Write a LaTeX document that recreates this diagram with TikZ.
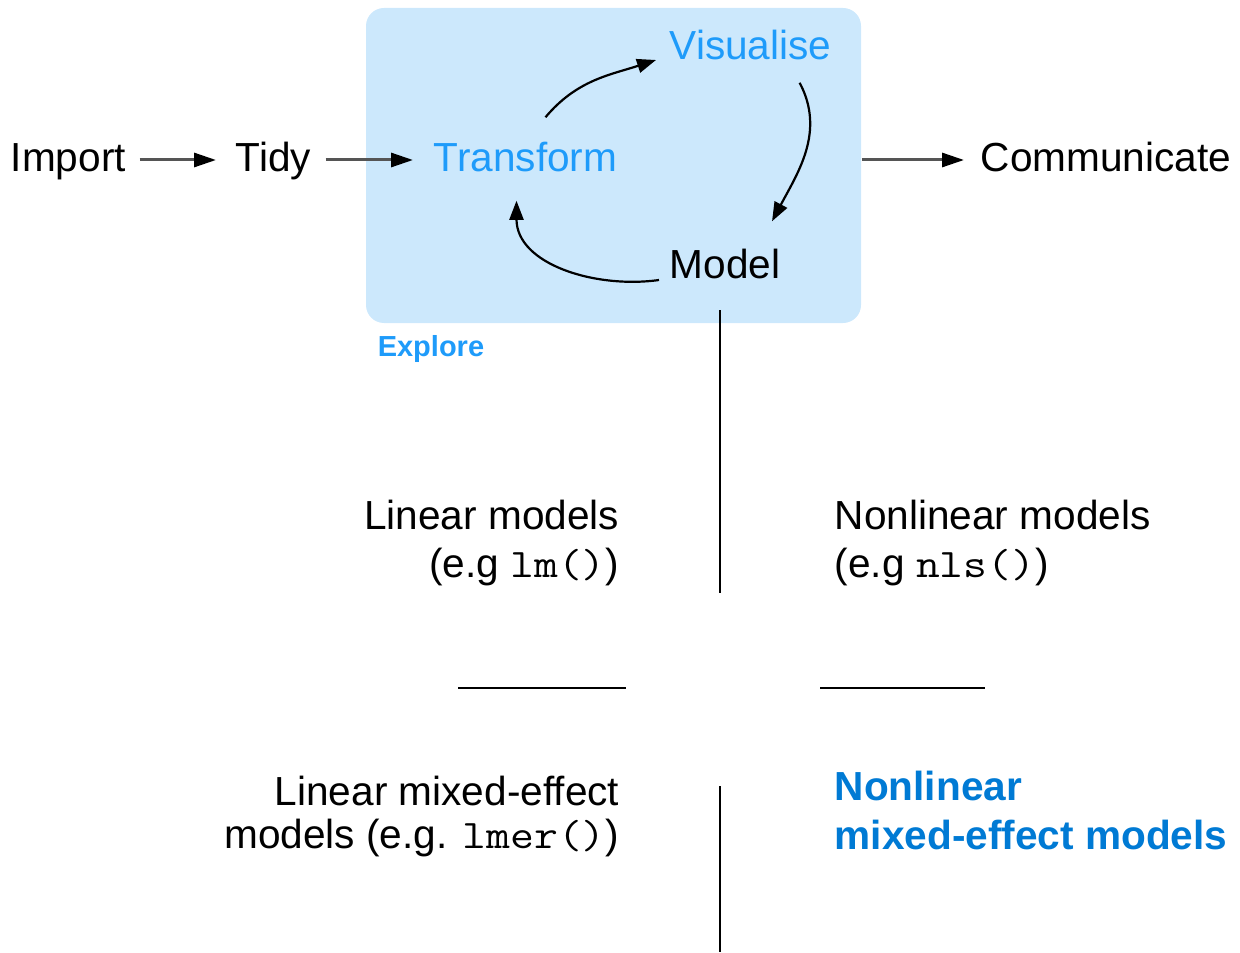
\documentclass[tikz,border=0pt]{standalone}
\usepackage{fontspec}
\setmainfont{Liberation Sans}
\setmonofont{Latin Modern Mono}[FakeStretch=1.14]
\usetikzlibrary{arrows.meta}

\definecolor{exploreblue}{RGB}{204,232,252}
\definecolor{stepblue}{RGB}{30,155,250}
\definecolor{nlmeblue}{RGB}{0,122,212}

\tikzset{every picture/.style={line width=0.75pt}}
\tikzset{
  lbl/.style={inner sep=0pt, text height=15pt, text depth=3pt, font=\fontsize{20.3}{24}\selectfont},
  flow/.style={draw={rgb,255:red,85;green,85;blue,85}, line width=1.5pt, -{Triangle[length=11pt,width=7pt,color=black]}},
  cycle arrow/.style={line width=1.1pt, -{Triangle[length=9.5pt,width=7pt]}},
  rule/.style={line width=1pt}
}

\begin{document}
\begin{tikzpicture}[x=0.5pt,y=-0.5pt]
\useasboundingbox (0,0) rectangle (1240,952);

%Shape: Rounded Rect
\node [fill=exploreblue, rounded corners=9pt, inner sep=0pt, minimum width=247.5pt, minimum height=157.5pt] (explorebox) at (613.5,165.5) {};

% Text Node
\node [lbl, anchor=base west] (import) at (10,172) {Import};
% Text Node
\node [lbl, anchor=base west] (tidy) at (235,172) {Tidy};
% Text Node
\node [lbl, anchor=base west, text=stepblue] (transform) at (433,172) {Transform};
% Text Node
\node [lbl, anchor=base west, text=stepblue] (visualise) at (669,60) {Visualise};
% Text Node
\node [lbl, anchor=base west] (model) at (669,278) {Model};
% Text Node
\node [lbl, anchor=base west] (communicate) at (980,172) {Communicate};
% Text Node
\node [inner sep=0pt, anchor=base west, text=stepblue, font=\fontsize{14.5}{17}\selectfont\bfseries] (explore) at (377,356) {Explore};

%Straight Lines
\draw [flow, shorten <=6.5pt, shorten >=9.5pt] (import.east) -- (tidy.west);
\draw [flow, shorten <=7pt, shorten >=10pt] (tidy.east) -- (transform.west);
\draw [flow, shorten >=8pt] (explorebox.east |- communicate.west) -- (communicate.west);

%Curves
\draw [cycle arrow] ([xshift=10pt,yshift=12pt]transform.north) to[out=50,in=198] ([xshift=-6.5pt,yshift=-6pt]visualise.west);
\draw [cycle arrow] ([xshift=24.5pt,yshift=-8pt]visualise.south) to[out=-62,in=62] ([xshift=23.5pt,yshift=13pt]model.north);
\draw [cycle arrow] ([xshift=-5pt,yshift=-7pt]model.west) to[out=188,in=-90] ([xshift=-4.5pt,yshift=-11pt]transform.south);

%Dividers
\coordinate (topsplit) at (720,310);
\coordinate (midsplit) at (720,593);
\coordinate (lowsplit) at (720,786);
\coordinate (basesplit) at (720,952);
\coordinate (leftbarw) at (458,688);
\coordinate (leftbare) at (626,688);
\coordinate (rightbarw) at (820,688);
\coordinate (rightbare) at (985,688);
\draw [rule] (topsplit) -- (midsplit);
\draw [rule] (lowsplit) -- (basesplit);
\draw [rule] (leftbarw) -- (leftbare);
\draw [rule] (rightbarw) -- (rightbare);

% Text Node
\node [lbl, anchor=base east] (lm1) at (620,529) {Linear models};
% Text Node
\node [lbl, anchor=base east] (lm2) at (620,577) {(e.g \texttt{lm()})};
% Text Node
\node [lbl, anchor=base west] (nls1) at (834,529) {Nonlinear models};
% Text Node
\node [lbl, anchor=base west] (nls2) at (834,577) {(e.g \texttt{nls()})};
% Text Node
\node [lbl, anchor=base east] (lmer1) at (620,805) {Linear mixed-effect};
% Text Node
\node [lbl, anchor=base east] (lmer2) at (620,848) {models (e.g. \texttt{lmer()})};
% Text Node
\node [lbl, anchor=base west, text=nlmeblue, font=\fontsize{20.3}{24}\selectfont\bfseries] (nlme1) at (834,800) {Nonlinear};
% Text Node
\node [lbl, anchor=base west, text=nlmeblue, font=\fontsize{20.3}{24}\selectfont\bfseries] (nlme2) at (834,849) {mixed-effect models};

\end{tikzpicture}
\end{document}
